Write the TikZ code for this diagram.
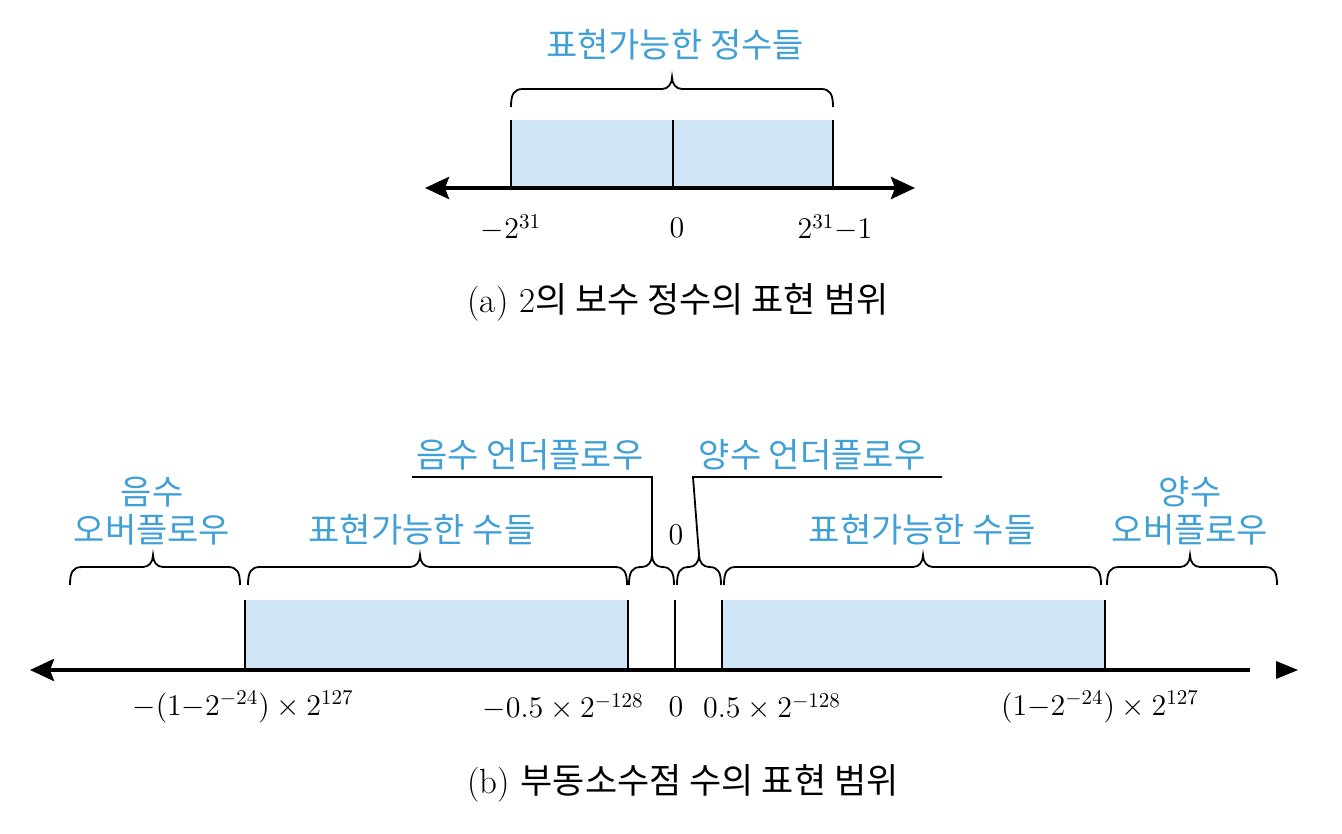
\RequirePackage{fix-cm}
\documentclass[tikz,border=0pt]{standalone}
\usepackage{fontspec}
\newfontfamily\kr{Noto Sans CJK KR}
\usetikzlibrary{arrows.meta}
\definecolor{txtblue}{RGB}{62,160,214}
\definecolor{zoneblue}{RGB}{208,230,246}

%  Accolade : depart x, pointe x, fin x, base y, nom de la pointe
\newcommand{\accol}[5]{%
  \draw[accol_style] (#1,#4) .. controls (#1,#4-13) and (#1+3,#4-18) .. (#1+12,#4-18)
    -- (#2-10,#4-18) .. controls (#2-4,#4-18) and (#2,#4-23) .. (#2,#4-30) coordinate (#5)
    .. controls (#2,#4-23) and (#2+4,#4-18) .. (#2+10,#4-18)
    -- (#3-12,#4-18) .. controls (#3-3,#4-18) and (#3,#4-13) .. (#3,#4);
}

\begin{document}
\begin{tikzpicture}[
  x=0.5pt, y=-0.5pt,
  >={Stealth[length=12pt,width=11pt,inset=2pt]},
  %  Définition des styles
  axe_style/.style={line width=2pt, draw=black},
  borne_style/.style={line width=0.9pt},
  zone_style/.style={fill=zoneblue, draw=none},
  accol_style/.style={line width=0.9pt},
  renvoi_style/.style={line width=0.9pt},
  bleu_style/.style={font=\kr\fontsize{17}{19}\selectfont, text=txtblue, inner sep=0pt, align=center},
  val_style/.style={font=\fontsize{15}{18}\selectfont, inner sep=0pt},
  legende_style/.style={font=\fontsize{17.5}{20}\selectfont, inner sep=0pt}
]
\useasboundingbox (0,0) rectangle (1342,834);

%  (a) entiers en complément à deux
\fill[zone_style] (511,120) rectangle (833,188);
\foreach \x in {511,673,833}
  \draw[borne_style] (\x,120) -- (\x,188);
\coordinate (a_g) at (425,188);
\coordinate (a_d) at (915,188);
\draw[axe_style, <->] (a_g) -- (a_d);
\accol{511}{672}{833}{107}{t_a}
\node[bleu_style] (a_zone) at (675,45) {표현가능한 정수들};
\node[val_style] (a_min) at (511,228) {$-2^{31}$};
\node[val_style] (a_zero) at (677,228) {$0$};
\node[val_style] (a_max) at (835,228) {$2^{31}{-}1$};
\node[legende_style] (a_leg) at (678,302) {(a) 2{\kr 의 보수 정수의 표현 범위}};

%  (b) nombres flottants
\fill[zone_style] (245,600) rectangle (628,670);
\fill[zone_style] (722,600) rectangle (1105,670);
\foreach \x in {245,628,675,722,1105}
  \draw[borne_style] (\x,600) -- (\x,670);
\coordinate (b_g) at (30,670);
\coordinate (b_d) at (1250,670);
\draw[axe_style, <-] (b_g) -- (b_d);
\fill (1276,661) -- (1298,670) -- (1276,679) -- cycle;

\accol{70}{153}{240}{585}{t_neg_over}
\accol{248}{420}{627}{585}{t_neg_zone}
\accol{629}{652}{674}{585}{t_neg_under}
\accol{677}{699}{721}{585}{t_pos_under}
\accol{724}{923}{1101}{585}{t_pos_zone}
\accol{1107}{1190}{1277}{585}{t_pos_over}

\node[bleu_style] (neg_over) at (152,511) {음수\\오버플로우};
\node[bleu_style] (neg_zone) at (422,530) {표현가능한 수들};
\node[val_style] (b_zero_top) at (676,535) {$0$};
\node[bleu_style] (pos_zone) at (922,530) {표현가능한 수들};
\node[bleu_style] (pos_over) at (1190,511) {양수\\오버플로우};
\node[bleu_style] (neg_under) at (530,455) {음수 언더플로우};
\node[bleu_style] (pos_under) at (812,455) {양수 언더플로우};

\coordinate (ng_a) at (412,477);
\coordinate (ng_b) at (652,477);
\coordinate (ps_a) at (942,477);
\coordinate (ps_b) at (693,477);
\draw[renvoi_style] (ng_a) -- (ng_b) -- (t_neg_under);
\draw[renvoi_style] (ps_a) -- (ps_b) -- (t_pos_under);

\node[val_style] (b_min) at (243,707) {$-(1{-}2^{-24})\times 2^{127}$};
\node[val_style] (b_nmin) at (563,707) {$-0.5\times 2^{-128}$};
\node[val_style] (b_zero) at (676,707) {$0$};
\node[val_style] (b_pmin) at (772,707) {$0.5\times 2^{-128}$};
\node[val_style] (b_max) at (1100,707) {$(1{-}2^{-24})\times 2^{127}$};
\node[legende_style] (b_leg) at (683,783) {(b) {\kr 부동소수점 수의 표현 범위}};
\end{tikzpicture}
\end{document}
